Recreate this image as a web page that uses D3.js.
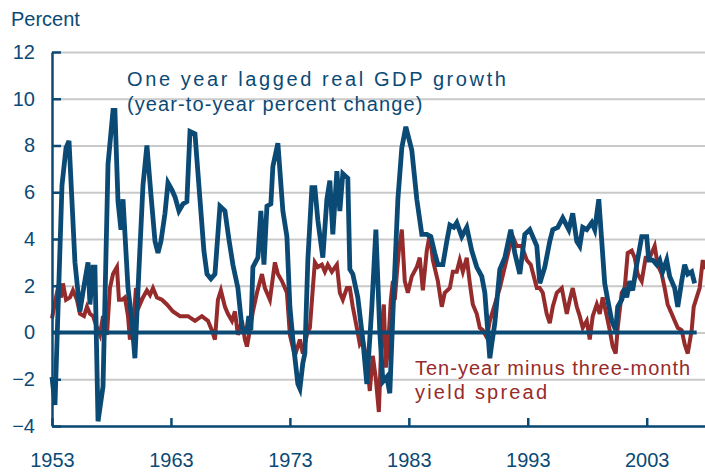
<!DOCTYPE html>
<html>
<head>
<meta charset="utf-8">
<script src="https://cdn.jsdelivr.net/npm/d3@7"></script>
<style>
  body { margin: 0; background: #fff; }
  svg { display: block; font-family: "Liberation Sans", Arial, sans-serif; }
  .grid line { stroke: #c9c9c9; stroke-width: 2; }
  .grid path { display: none; }
  .axis path, .axis line { stroke: #0b4a75; stroke-width: 2.5; }
  .axis text { fill: #0b4a75; font-size: 20px; }
</style>
</head>
<body>
<script>
// one year lagged real GDP growth (year-to-year percent change)
var gdpDates = [1953.00, 1953.25, 1953.84, 1954.18, 1954.43, 1954.93, 1955.35, 1955.69, 1956.03, 1956.19,
  1956.45, 1956.61, 1956.87, 1957.29, 1957.71, 1958.13, 1958.29, 1958.55, 1958.80, 1958.97,
  1959.39, 1959.72, 1959.97, 1960.31, 1960.65, 1960.98, 1961.32, 1961.66, 1961.91, 1962.16,
  1962.50, 1962.75, 1963.08, 1963.34, 1963.67, 1964.01, 1964.34, 1964.60, 1965.02, 1965.44,
  1965.77, 1966.03, 1966.36, 1966.70, 1967.12, 1967.54, 1967.87, 1968.21, 1968.63, 1968.97,
  1969.39, 1969.55, 1969.72, 1969.89, 1970.31, 1970.56, 1970.82, 1971.07, 1971.40, 1971.57,
  1971.99, 1972.41, 1972.75, 1973.00, 1973.25, 1973.67, 1973.84, 1974.09, 1974.26, 1974.51,
  1974.85, 1975.10, 1975.35, 1975.77, 1976.11, 1976.36, 1976.61, 1976.95, 1977.20, 1977.45,
  1977.87, 1978.04, 1978.29, 1978.71, 1979.13, 1979.47, 1979.89, 1980.23, 1980.56, 1980.82,
  1981.15, 1981.40, 1981.66, 1982.08, 1982.41, 1982.75, 1983.25, 1983.67, 1984.09, 1984.51,
  1984.85, 1985.18, 1985.44, 1985.86, 1986.19, 1986.45, 1986.78, 1987.03, 1987.45, 1987.87,
  1988.29, 1988.71, 1989.13, 1989.39, 1989.81, 1989.97, 1990.23, 1990.65, 1991.07, 1991.57,
  1991.91, 1992.33, 1992.75, 1993.17, 1993.76, 1994.01, 1994.43, 1994.85, 1995.10, 1995.52,
  1995.94, 1996.45, 1996.78, 1997.12, 1997.37, 1997.62, 1997.96, 1998.38, 1998.63, 1998.97,
  1999.22, 1999.47, 1999.72, 2000.06, 2000.39, 2000.56, 2000.90, 2001.15, 2001.32, 2001.57,
  2001.82, 2002.16, 2002.58, 2003.00, 2003.17, 2003.50, 2003.84, 2004.09, 2004.34, 2004.68,
  2004.93, 2005.35, 2005.61, 2005.94, 2006.19, 2006.45, 2006.78, 2007.03];
var gdpValues = [-1.9, -3.1, 6.3, 7.9, 8.2, 3.0, 0.9, 2.0, 3.0, 1.2,
  2.8, 2.8, -3.8, -2.3, 7.2, 9.5, 9.5, 5.6, 4.4, 5.7,
  1.9, 0.5, -1.1, 2.7, 6.3, 8.0, 5.9, 3.9, 3.4, 3.9,
  5.1, 6.4, 6.1, 5.8, 5.2, 5.5, 5.6, 8.6, 8.5, 5.7,
  3.5, 2.5, 2.3, 2.5, 5.4, 5.2, 4.0, 2.9, 1.9, 0.2,
  0.1, 0.7, 0.1, 2.8, 3.2, 5.2, 2.9, 5.4, 5.5, 7.1,
  8.1, 5.2, 4.1, 1.1, -0.3, -2.2, -2.4, -1.3, -0.9, 3.1,
  6.2, 6.2, 4.8, 3.2, 5.7, 6.5, 4.2, 6.9, 5.2, 6.8,
  6.6, 2.7, 2.5, 1.5, -0.3, -2.2, 1.1, 4.4, 0.0, -2.1,
  -1.9, -2.6, 0.8, 5.7, 7.9, 8.8, 7.8, 5.7, 4.2, 4.2,
  4.1, 3.4, 2.9, 2.9, 3.9, 4.6, 4.5, 4.7, 4.1, 4.5,
  3.5, 2.8, 2.4, 1.7, -1.1, -0.5, 0.4, 2.7, 3.2, 4.4,
  3.4, 2.5, 4.2, 4.4, 3.7, 2.1, 2.8, 3.9, 4.4, 4.5,
  4.9, 4.4, 5.1, 3.9, 3.7, 4.5, 4.4, 4.7, 4.4, 5.7,
  3.9, 2.1, 1.4, 0.5, 0.1, 1.1, 1.4, 1.9, 1.5, 2.2,
  1.8, 2.9, 4.1, 4.1, 3.1, 3.1, 2.9, 3.1, 2.6, 3.1,
  2.4, 1.9, 1.1, 2.2, 2.9, 2.5, 2.6, 2.1];

// ten-year minus three-month yield spread
var spreadDates = [1953.00, 1953.25, 1953.50, 1953.76, 1953.92, 1954.18, 1954.51, 1954.76, 1955.10, 1955.35,
  1955.69, 1955.94, 1956.19, 1956.45, 1956.78, 1957.03, 1957.29, 1957.62, 1957.87, 1958.13,
  1958.46, 1958.63, 1958.88, 1959.13, 1959.39, 1959.55, 1959.81, 1960.06, 1960.39, 1960.65,
  1960.98, 1961.24, 1961.49, 1961.82, 1962.24, 1962.66, 1963.17, 1963.76, 1964.43, 1965.02,
  1965.60, 1966.11, 1966.44, 1966.70, 1966.95, 1967.20, 1967.54, 1967.79, 1968.13, 1968.38,
  1968.63, 1968.97, 1969.22, 1969.39, 1969.64, 1969.89, 1970.23, 1970.65, 1970.90, 1971.32,
  1971.74, 1971.99, 1972.33, 1972.75, 1973.00, 1973.42, 1973.84, 1974.09, 1974.43, 1974.68,
  1974.93, 1975.10, 1975.35, 1975.69, 1975.94, 1976.19, 1976.53, 1976.95, 1977.20, 1977.45,
  1977.79, 1978.04, 1978.29, 1978.63, 1978.88, 1979.13, 1979.47, 1979.72, 1979.97, 1980.23,
  1980.48, 1980.73, 1980.90, 1981.07, 1981.23, 1981.49, 1981.66, 1981.82, 1981.99, 1982.16,
  1982.41, 1982.66, 1982.92, 1983.25, 1983.67, 1983.92, 1984.18, 1984.51, 1984.76, 1985.02,
  1985.44, 1985.77, 1986.02, 1986.45, 1986.70, 1987.03, 1987.28, 1987.54, 1987.87, 1988.13,
  1988.38, 1988.71, 1988.97, 1989.22, 1989.55, 1989.81, 1990.23, 1990.65, 1991.07, 1991.49,
  1991.74, 1992.07, 1992.49, 1992.91, 1993.25, 1993.76, 1994.01, 1994.26, 1994.59, 1994.85,
  1995.10, 1995.44, 1995.86, 1996.28, 1996.53, 1996.78, 1997.12, 1997.37, 1997.62, 1997.96,
  1998.21, 1998.46, 1998.80, 1999.05, 1999.30, 1999.64, 1999.89, 2000.14, 2000.39, 2000.56,
  2000.90, 2001.15, 2001.40, 2001.74, 2001.99, 2002.24, 2002.58, 2002.91, 2003.25, 2003.67,
  2003.92, 2004.26, 2004.51, 2004.76, 2005.10, 2005.35, 2005.61, 2005.94, 2006.19, 2006.45,
  2006.78, 2006.95, 2007.20, 2007.45, 2007.71, 2007.87];
var spreadValues = [0.6, 1.3, 1.9, 1.5, 2.1, 1.4, 1.5, 1.8, 1.4, 0.8,
  0.7, 1.1, 0.8, 0.7, 0.2, -0.1, 0.7, -0.1, 1.9, 2.5,
  2.8, 1.4, 1.4, 1.5, 0.7, -0.3, 0.2, 1.9, 1.2, 1.5,
  1.8, 1.6, 1.9, 1.5, 1.4, 1.2, 0.9, 0.7, 0.7, 0.5,
  0.7, 0.5, 0.1, -0.3, 1.4, 1.8, 1.1, 0.8, 0.5, 0.9,
  -0.1, 0.5, -0.3, -0.6, 0.1, 0.9, 1.7, 2.5, 1.9, 1.4,
  3.0, 2.5, 2.2, 1.7, -0.1, -1.0, -0.3, -0.9, -0.1, 0.2,
  1.9, 3.0, 2.8, 2.9, 2.6, 2.9, 2.6, 2.9, 1.7, 1.4,
  1.9, 1.9, 1.1, 0.2, -0.5, -0.3, -1.2, -2.5, -1.0, -2.0,
  -3.4, 0.2, 1.2, -1.5, -0.8, 1.4, 2.2, 1.4, 2.5, 3.5,
  4.4, 2.2, 1.7, 2.4, 2.8, 3.2, 1.8, 3.5, 4.2, 3.1,
  2.2, 1.1, 1.7, 1.9, 2.6, 2.6, 3.1, 2.6, 3.2, 2.1,
  1.2, 0.8, 0.2, 0.1, -0.2, 0.5, 1.2, 1.9, 2.8, 3.7,
  4.1, 3.7, 3.7, 3.1, 2.9, 1.9, 1.9, 1.7, 0.8, 0.4,
  1.1, 1.7, 1.9, 0.8, 1.4, 1.9, 1.1, 0.7, 0.2, 0.5,
  -0.3, 0.7, 1.2, 0.8, 1.5, 0.7, 0.1, -0.6, -0.9, 0.2,
  1.7, 1.9, 3.4, 3.5, 3.2, 2.5, 2.2, 3.2, 3.2, 3.7,
  2.9, 2.5, 1.9, 1.2, 0.8, 0.5, 0.2, 0.1, -0.5, -0.9,
  0.1, 1.1, 1.5, 1.9, 3.1, 2.7];

var yTicks = [-4, -2, 0, 2, 4, 6, 8, 10, 12];
var xTicks = [1953, 1963, 1973, 1983, 1993, 2003];

var blue = "#0b4a75", red = "#962b2b";

var width = 705, height = 472;

var svg = d3.select("body").append("svg")
    .attr("width", width)
    .attr("height", height);

// scales
var x = d3.scaleLinear().domain([1953, 2007.9]).range([52, 705]);
var y = d3.scaleLinear().domain([-4, 12]).range([426, 52]);

var gdp = gdpDates.map(function(d, i) { return {date: d, value: gdpValues[i]}; });
var spread = spreadDates.map(function(d, i) { return {date: d, value: spreadValues[i]}; });

// gridlines
svg.append("g")
    .attr("class", "grid")
    .attr("transform", "translate(52,0)")
    .call(d3.axisLeft(y).tickValues(yTicks).tickSize(-(705 - 52)).tickFormat(""));

var line = d3.line()
    .x(function(d) { return x(d.date); })
    .y(function(d) { return y(d.value); });

// spread line
svg.append("path")
    .datum(spread)
    .attr("fill", "none")
    .attr("stroke", red)
    .attr("stroke-width", 4)
    .attr("stroke-linejoin", "miter")
    .attr("d", line);

// zero line
svg.append("line")
    .attr("x1", x(1953)).attr("x2", x(2007.2))
    .attr("y1", y(0)).attr("y2", y(0))
    .attr("stroke", blue)
    .attr("stroke-width", 4);

// gdp line
svg.append("path")
    .datum(gdp)
    .attr("fill", "none")
    .attr("stroke", blue)
    .attr("stroke-width", 4.8)
    .attr("stroke-linejoin", "miter")
    .attr("d", line);

// y axis
svg.append("g")
    .attr("class", "axis")
    .attr("transform", "translate(52,0)")
    .call(d3.axisLeft(y).tickValues(yTicks).tickSizeInner(-9).tickSizeOuter(0).tickPadding(17));

// x axis
svg.append("g")
    .attr("class", "axis")
    .attr("transform", "translate(0," + y(-4) + ")")
    .call(d3.axisBottom(x).tickValues(xTicks).tickSizeInner(-8).tickSizeOuter(0)
        .tickPadding(27).tickFormat(d3.format("d")));

// labels
svg.append("text")
    .attr("x", 11).attr("y", 26)
    .style("font-size", "20px").attr("fill", blue)
    .text("Percent");

svg.append("text")
    .attr("x", 127).attr("y", 86)
    .style("font-size", "20px").style("letter-spacing", "2.6px").attr("fill", blue)
    .text("One year lagged real GDP growth");

svg.append("text")
    .attr("x", 127).attr("y", 111)
    .style("font-size", "20px").style("letter-spacing", "1.1px").attr("fill", blue)
    .text("(year-to-year percent change)");

svg.append("text")
    .attr("x", 415).attr("y", 375)
    .style("font-size", "20px").style("letter-spacing", "1px").attr("fill", red)
    .text("Ten-year minus three-month");

svg.append("text")
    .attr("x", 415).attr("y", 399)
    .style("font-size", "20px").style("letter-spacing", "2.2px").attr("fill", red)
    .text("yield spread");
</script>
</body>
</html>
